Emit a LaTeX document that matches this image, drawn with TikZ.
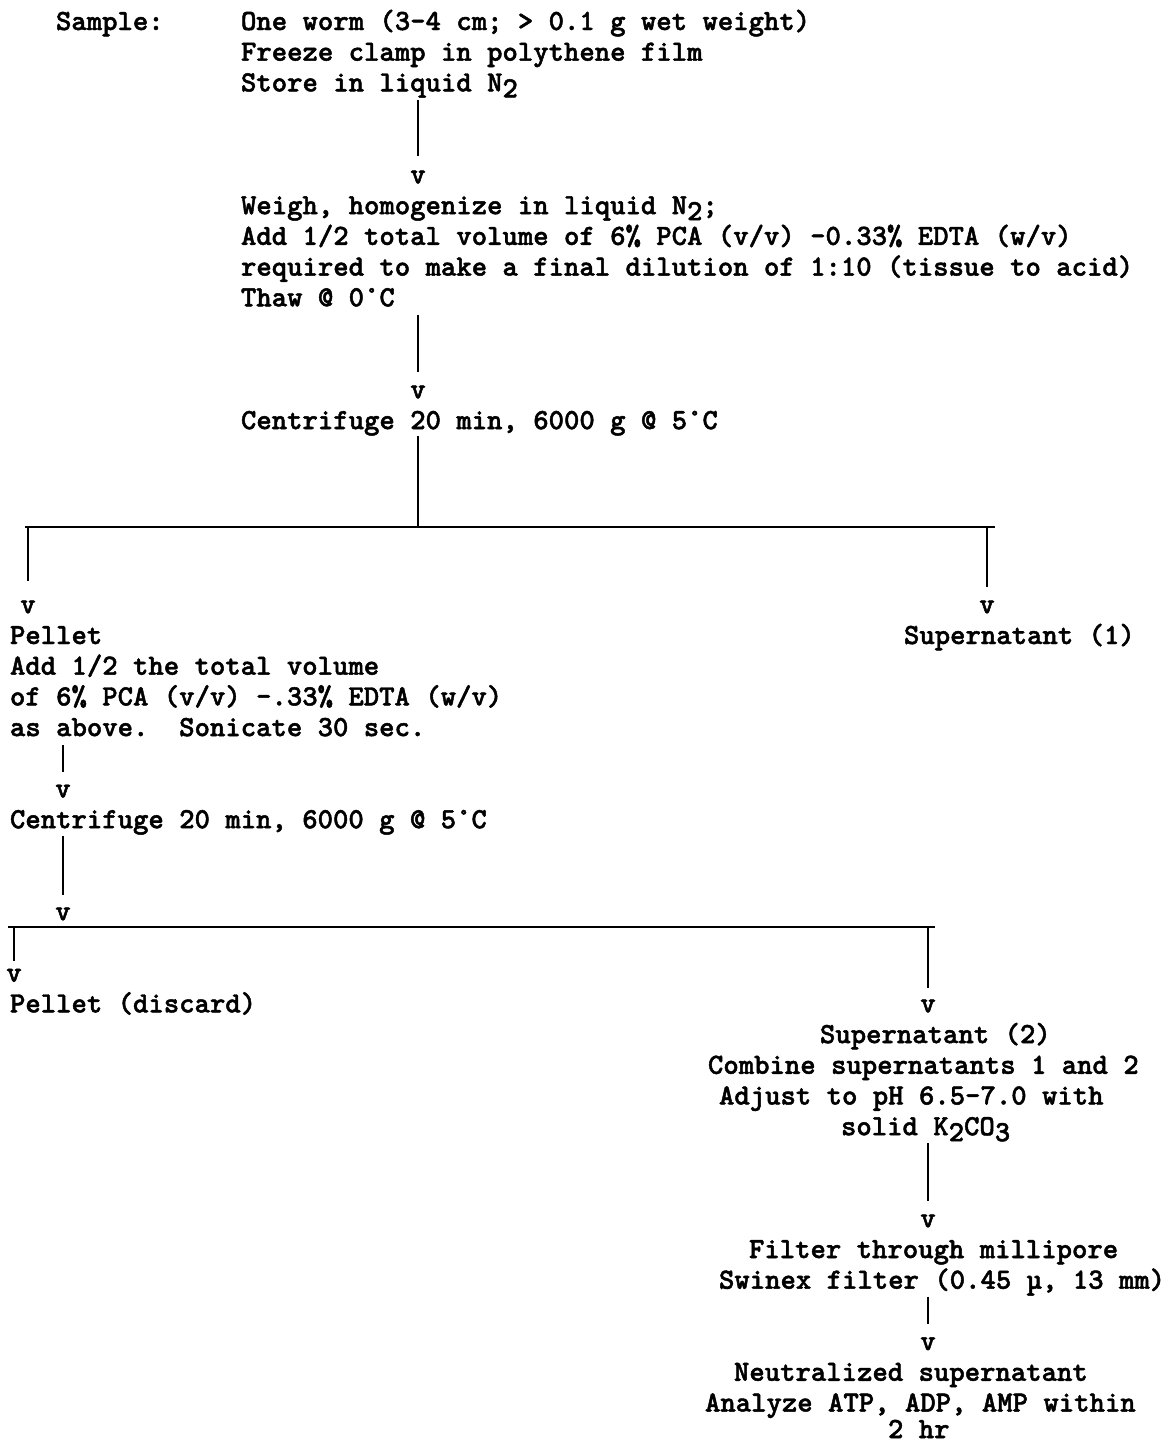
\documentclass[tikz,border=0pt]{standalone}
\usepackage{fontspec}
\usetikzlibrary{calc}
\newfontfamily\tfam{lmmonolt10-bold.otf}[FakeBold=1.6]
\newcommand\tfont{\tfam\fontsize{29.3}{30.7}\selectfont}
\newcommand\lo[1]{\raisebox{-6pt}{#1}}
\begin{document}
\begin{tikzpicture}[x=1pt,y=-1pt,
  tx/.style={inner sep=0pt, outer sep=0pt, anchor=base west, font=\tfont},
  arr/.style={inner sep=0pt, outer sep=0pt, anchor=base, font=\tfont},
  ln/.style={line width=1.8pt}]
\useasboundingbox (0,0) rectangle (1167,1443);
% top block
\node[tx] (sample) at (56,30) {Sample:};
\node[tx] (a1) at (241,30) {One worm (3-4 cm; > 0.1 g wet weight)};
\node[tx] (a2) at (241,60.7) {Freeze clamp in polythene film};
\node[tx] (a3) at (241,91.4) {Store in liquid N\lo{2}};
\node[arr] (v1) at (418,183.5) {v};
\node[tx] (b1) at (241,214.2) {Weigh, homogenize in liquid N\lo{2};};
\node[tx] (b2) at (241,244.9) {Add 1/2 total volume of 6\% PCA (v/v) -0.33\% EDTA (w/v)};
\node[tx] (b3) at (241,275.6) {required to make a final dilution of 1:10 (tissue to acid)};
\node[tx] (b4) at (241,306.3) {Thaw @ 0°C};
\node[arr] (v2) at (418,398.4) {v};
\node[tx] (c1) at (241,429.1) {Centrifuge 20 min, 6000 g @ 5°C};
% first split
\coordinate (m1) at (418,527);
\coordinate (l1) at (25,527);
\coordinate (r1) at (995,527);
\node[arr] (v3) at (28,613.3) {v};
\node[arr] (v4) at (987,613.3) {v};
\node[tx] (p1) at (10,644) {Pellet};
\node[tx] (s1) at (904,644) {Supernatant (1)};
\node[tx] (p2) at (10,674.7) {Add 1/2 the total volume};
\node[tx] (p3) at (10,705.4) {of 6\% PCA (v/v) -.33\% EDTA (w/v)};
\node[tx] (p4) at (10,736.1) {as above.\ \ Sonicate 30 sec.};
\node[arr] (v5) at (63,797.5) {v};
\node[tx] (c2) at (10,828.2) {Centrifuge 20 min, 6000 g @ 5°C};
\node[arr] (v6) at (63,920.3) {v};
% second split
\coordinate (l2) at (8,927);
\coordinate (r2) at (935,927);
\node[arr] (v7) at (14,981.7) {v};
\node[tx] (pd) at (10,1012.4) {Pellet (discard)};
\node[arr] (v8) at (928,1012.4) {v};
\node[tx] (s2) at (820,1043.1) {Supernatant (2)};
\node[tx] (s3) at (708,1073.8) {Combine supernatants 1 and 2};
\node[tx] (s4) at (719,1104.5) {Adjust to pH 6.5-7.0 with};
\node[tx] (s5) at (841,1135.2) {solid K\lo{2}CO\lo{3}};
\node[arr] (v9) at (928,1227.3) {v};
\node[tx] (f1) at (749,1258) {Filter through millipore};
\node[tx] (f2) at (719,1288.7) {Swinex filter (0.45 µ, 13 mm)};
\node[arr] (v10) at (928,1350.1) {v};
\node[tx] (n1) at (734,1380.8) {Neutralized supernatant};
\node[tx] (n2) at (705,1411.5) {Analyze ATP, ADP, AMP within};
\node[tx] (n3) at (888,1438) {2 hr};
% connectors
\draw[ln] ($(a3.base -| v1)+(0,9)$) -- ($(v1.north)+(0,-15)$);
\draw[ln] ($(b4.base -| v2)+(0,9)$) -- ($(v2.north)+(0,-14)$);
\draw[ln] ($(c1.base -| m1)+(0,7)$) -- (m1);
\draw[ln] (l1) -- (r1);
\draw[ln] (v3 |- l1) -- ($(v3.north)+(0,-20)$);
\draw[ln] (v4 |- r1) -- ($(v4.north)+(0,-14)$);
\draw[ln] ($(p4.base -| v5)+(0,9)$) -- ($(v5.north)+(0,-13)$);
\draw[ln] ($(c2.base -| v6)+(0,8)$) -- ($(v6.north)+(0,-13)$);
\draw[ln] (l2) -- (r2);
\draw[ln] (v7 |- l2) -- ($(v7.north)+(0,-8)$);
\draw[ln] (v8 |- r2) -- ($(v8.north)+(0,-12)$);
\draw[ln] ($(s5.base -| v9)+(0,8)$) -- ($(v9.north)+(0,-14)$);
\draw[ln] ($(f2.base -| v10)+(0,8)$) -- ($(v10.north)+(0,-13)$);
\end{tikzpicture}
\end{document}
